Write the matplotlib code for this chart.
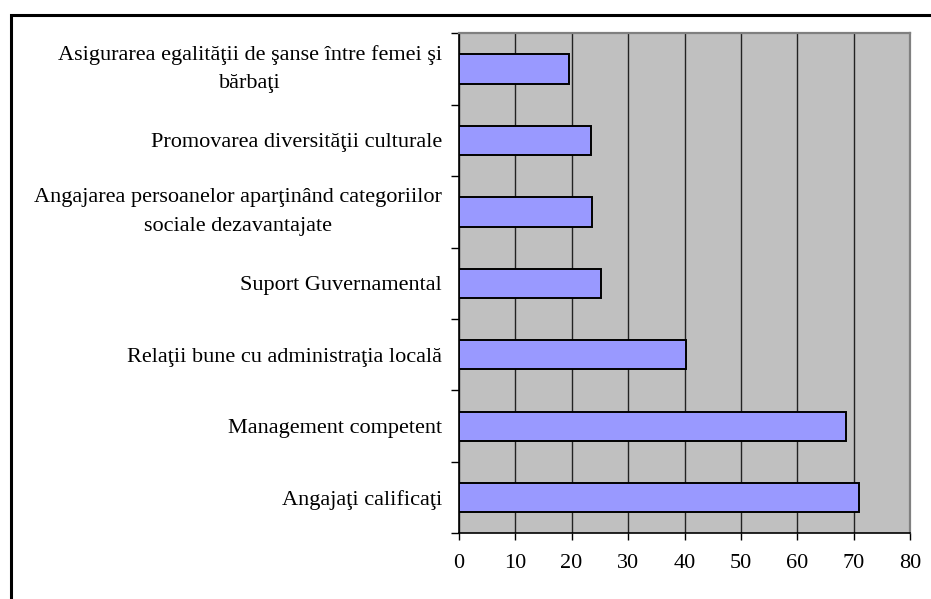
import matplotlib
matplotlib.use("Agg")
import matplotlib.pyplot as plt
from matplotlib.patches import Rectangle
import numpy as np

categories = [
    "Angajaţi calificaţi",
    "Management competent",
    "Relaţii bune cu administraţia locală",
    "Suport Guvernamental",
    "Angajarea persoanelor aparţinând categoriilor\nsociale dezavantajate",
    "Promovarea diversităţii culturale",
    "Asigurarea egalităţii de şanse între femei şi\nbărbaţi",
]
values = [71.0, 68.6, 40.3, 25.2, 23.7, 23.4, 19.5]
xticks = [0, 10, 20, 30, 40, 50, 60, 70, 80]

plt.rcParams['font.family'] = ['Liberation Serif', 'DejaVu Serif']

fig = plt.figure(figsize=(9.31, 5.99), dpi=100)
# outer frame
fig.patches.append(Rectangle((10.5/931, -0.05), 1.0, (599-14.5)/599 + 0.05,
                             transform=fig.transFigure, fill=False,
                             edgecolor='black', linewidth=2.2, clip_on=False))

ax = fig.add_axes([458.7/931, (599-533.3)/599, (910.3-458.7)/931, (533.3-33.3)/599])
ax.set_facecolor('#C0C0C0')
y = np.arange(len(categories))
ax.barh(y, values, height=0.41, color='#9999FF', edgecolor='black', linewidth=1.4, zorder=3)

ax.set_xlim(0, 80)
ax.set_ylim(-0.5, len(categories) - 0.5)
ax.set_xticks(xticks)
ax.set_xticklabels([str(t) for t in xticks], fontsize=16)
ax.set_yticks(y)
labels = ax.set_yticklabels(categories, fontsize=16, multialignment='center', linespacing=1.7)
for lab in labels:
    if "\n" in lab.get_text():
        lab.set_verticalalignment('center')
ax.tick_params(axis='y', which='major', length=0, pad=12)
ax.set_yticks(np.arange(-0.5, len(categories), 1.0), minor=True)
ax.tick_params(axis='y', which='minor', length=6, width=1, direction='out')
ax.tick_params(axis='x', which='major', length=5, width=1, direction='out', pad=10)

ax.grid(axis='x', color='#222222', linewidth=1.0, zorder=1)
ax.set_axisbelow(True)
for s in ['top', 'right']:
    ax.spines[s].set_color('#808080')
    ax.spines[s].set_linewidth(1.6)
for s in ['left', 'bottom']:
    ax.spines[s].set_color('black')
    ax.spines[s].set_linewidth(1.2)

fig.savefig('out.png', dpi=100)
